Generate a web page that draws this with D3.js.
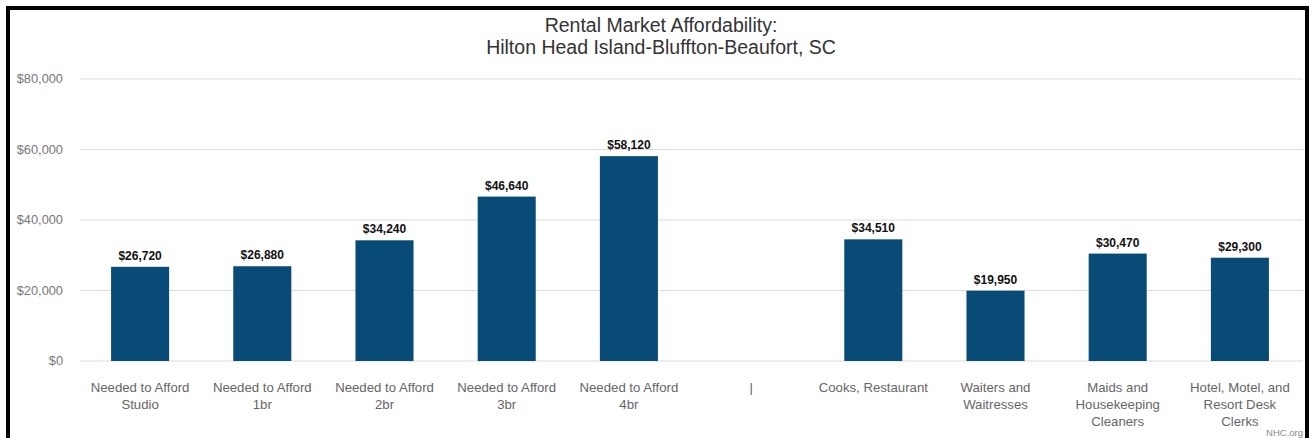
<!DOCTYPE html>
<html>
<head>
<meta charset="utf-8">
<script src="https://cdn.jsdelivr.net/npm/d3@7"></script>
<style>
  body { margin: 0; background: #fff; }
  svg text { font-family: "Liberation Sans", Arial, Helvetica, sans-serif; }
</style>
</head>
<body>
<svg id="chart"></svg>
<script>
// Chart data
const categories = [
  ["Needed to Afford", "Studio"],
  ["Needed to Afford", "1br"],
  ["Needed to Afford", "2br"],
  ["Needed to Afford", "3br"],
  ["Needed to Afford", "4br"],
  ["|"],
  ["Cooks, Restaurant"],
  ["Waiters and", "Waitresses"],
  ["Maids and", "Housekeeping", "Cleaners"],
  ["Hotel, Motel, and", "Resort Desk", "Clerks"]
];
const values = [26720, 26880, 34240, 46640, 58120, null, 34510, 19950, 30470, 29300];
const yTicks = [0, 20000, 40000, 60000, 80000];
const titleLines = ["Rental Market Affordability:", "Hilton Head Island-Bluffton-Beaufort, SC"];

const width = 1310, height = 438;
const margin = { left: 79, right: 9, top: 79, bottom: 77 };

const svg = d3.select("#chart")
  .attr("width", width)
  .attr("height", height);

// Frame
svg.append("rect")
  .attr("x", 8).attr("y", 8)
  .attr("width", 1299).attr("height", 440)
  .attr("fill", "none")
  .attr("stroke", "#000")
  .attr("stroke-width", 4);
svg.append("line")
  .attr("x1", 1307.5).attr("x2", 1307.5)
  .attr("y1", 8).attr("y2", height)
  .attr("stroke", "#000").attr("stroke-width", 1.5);

const x = d3.scaleBand()
  .domain(d3.range(categories.length))
  .range([margin.left, width - margin.right])
  .paddingInner(0.525)
  .paddingOuter(0.2625);

const y = d3.scaleLinear()
  .domain([0, 80000])
  .range([height - margin.bottom, margin.top]);

// Gridlines
svg.append("g")
  .selectAll("line")
  .data(yTicks)
  .join("line")
  .attr("x1", margin.left + 1)
  .attr("x2", width - 7)
  .attr("y1", d => y(d))
  .attr("y2", d => y(d))
  .attr("stroke", "#dcdcdc")
  .attr("stroke-width", 1.2);

// Y tick labels
svg.append("g")
  .selectAll("text")
  .data(yTicks)
  .join("text")
  .attr("x", 63)
  .attr("y", d => y(d))
  .attr("dy", "0.35em")
  .attr("text-anchor", "end")
  .attr("font-size", 12.8)
  .attr("fill", "#777")
  .text(d => d3.format("$,")(d));

// Bars
const data = values.map((v, i) => ({ i, v })).filter(d => d.v != null);

svg.append("g")
  .selectAll("rect")
  .data(data)
  .join("rect")
  .attr("x", d => x(d.i))
  .attr("width", x.bandwidth())
  .attr("y", d => y(d.v))
  .attr("height", d => y(0) - y(d.v))
  .attr("fill", "#084b77");

// Value labels
svg.append("g")
  .selectAll("text")
  .data(data)
  .join("text")
  .attr("x", d => x(d.i) + x.bandwidth() / 2)
  .attr("y", d => y(d.v) - 7)
  .attr("text-anchor", "middle")
  .attr("font-size", 12)
  .attr("font-weight", "bold")
  .attr("fill", "#111")
  .text(d => d3.format("$,")(d.v));

// Category labels
const catG = svg.append("g")
  .selectAll("text")
  .data(categories)
  .join("text")
  .attr("x", (d, i) => x(i) + x.bandwidth() / 2)
  .attr("y", 392)
  .attr("text-anchor", "middle")
  .attr("font-size", 13.2)
  .attr("fill", "#666");

catG.selectAll("tspan")
  .data(d => d)
  .join("tspan")
  .attr("x", function () { return d3.select(this.parentNode).attr("x"); })
  .attr("dy", (d, i) => i === 0 ? 0 : 17)
  .text(d => d);

// Title
svg.append("g")
  .selectAll("text")
  .data(titleLines)
  .join("text")
  .attr("x", 661)
  .attr("y", (d, i) => 32 + i * 21.5)
  .attr("text-anchor", "middle")
  .attr("font-size", 19.5)
  .attr("fill", "#333")
  .text(d => d);

// Source
svg.append("text")
  .attr("x", 1303)
  .attr("y", 436)
  .attr("text-anchor", "end")
  .attr("font-size", 9.5)
  .attr("fill", "#888")
  .text("NHC.org");
</script>
</body>
</html>
